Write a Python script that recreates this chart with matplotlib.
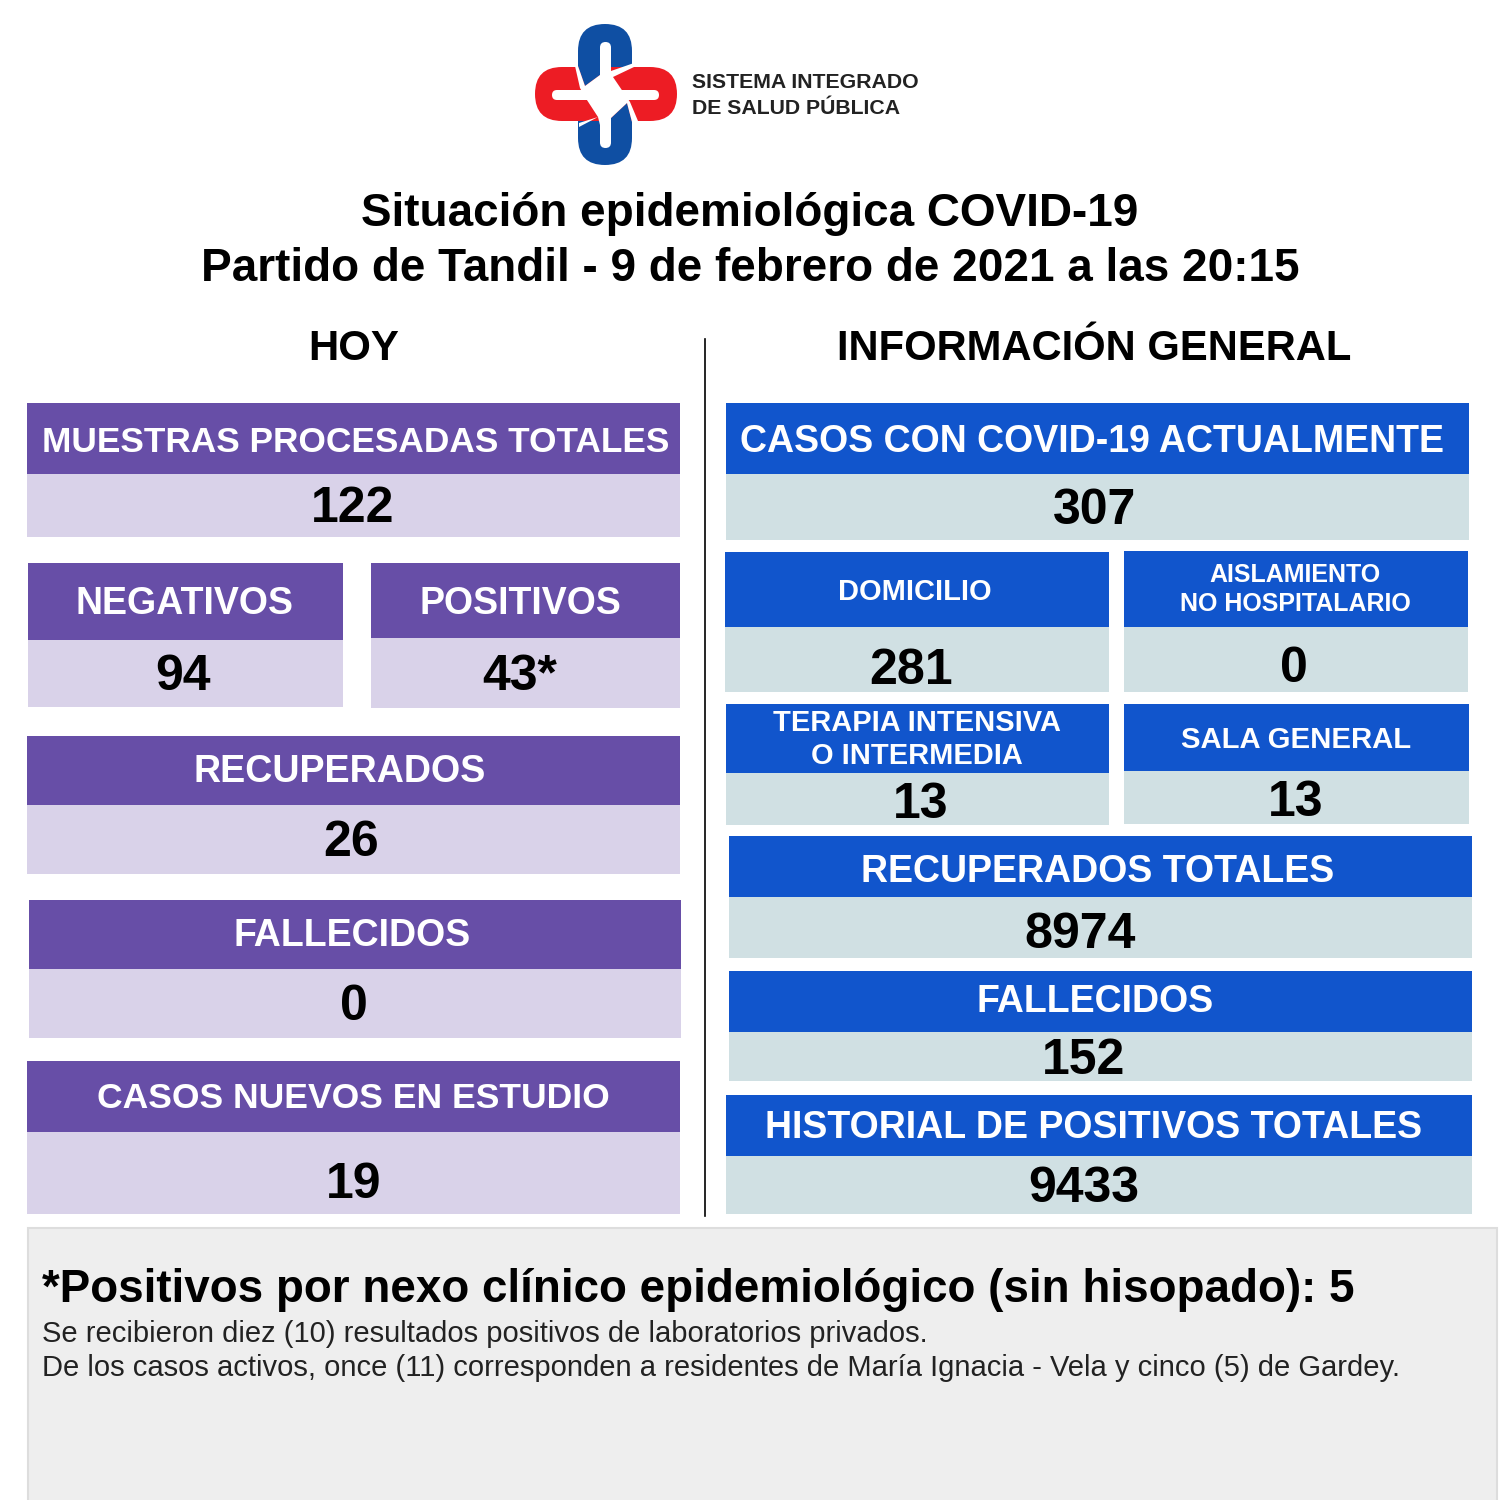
import matplotlib
matplotlib.use('Agg')
import matplotlib.pyplot as plt
from matplotlib.patches import FancyBboxPatch, Polygon, Rectangle

plt.rcParams['font.family'] = ['Liberation Sans', 'DejaVu Sans']

# data
title_lines = ['Situación epidemiológica COVID-19',
               'Partido de Tandil - 9 de febrero de 2021 a las 20:15']
left_labels = ['MUESTRAS PROCESADAS TOTALES', 'NEGATIVOS', 'POSITIVOS', 'RECUPERADOS',
               'FALLECIDOS', 'CASOS NUEVOS EN ESTUDIO']
left_values = ['122', '94', '43*', '26', '0', '19']
right_labels = ['CASOS CON COVID-19 ACTUALMENTE', 'DOMICILIO', 'AISLAMIENTO\nNO HOSPITALARIO',
                'TERAPIA INTENSIVA\nO INTERMEDIA', 'SALA GENERAL', 'RECUPERADOS TOTALES',
                'FALLECIDOS', 'HISTORIAL DE POSITIVOS TOTALES']
right_values = ['307', '281', '0', '13', '13', '8974', '152', '9433']
note_head = '*Positivos por nexo clínico epidemiológico (sin hisopado): 5'
note_lines = ['Se recibieron diez (10) resultados positivos de laboratorios privados.',
              'De los casos activos, once (11) corresponden a residentes de María Ignacia - Vela y cinco (5) de Gardey.']

# layout in pixels: x0, x1, top, mid, bottom, label x, label y, value x, value y, label px
left_boxes = [(27, 680, 403, 474, 537, 356, 440, 353, 504, 35.3),
              (28, 343, 563, 640, 707, 185, 602, 183, 672, 37.5),
              (371, 680, 563, 638, 708, 520, 601, 520, 672, 37.5),
              (27, 680, 736, 805, 874, 340, 770, 351, 838, 37.6),
              (29, 681, 900, 969, 1038, 352, 934, 354, 1002, 37.5),
              (27, 680, 1061, 1132, 1214, 353, 1096, 354, 1180, 35.5)]
right_boxes = [(726, 1469, 403, 474, 540, 1092, 439, 1095, 507, 37.5),
               (725, 1109, 552, 627, 692, 915, 589, 911, 666, 29),
               (1124, 1468, 551, 627, 692, 1295, 587, 1294, 665, 25),
               (726, 1109, 704, 773, 825, 917, 737, 921, 800, 29),
               (1124, 1469, 704, 771, 824, 1296, 737, 1296, 798, 29.2),
               (729, 1472, 836, 897, 958, 1098, 869, 1080, 931, 37.5),
               (729, 1472, 971, 1032, 1081, 1095, 1000, 1084, 1057, 37.5),
               (726, 1472, 1095, 1156, 1214, 1094, 1126, 1084, 1185, 37.5)]

PX = 72 / 150  # pixels to points
DY = 3.5  # text sits a bit high with va=center


def draw_box(ax, box, label, value, head_col, body_col):
    x0, x1, top, mid, bottom, lx, ly, vx, vy, lsize = box
    ax.add_patch(Rectangle((x0, mid), x1 - x0, bottom - mid, color=body_col, lw=0))
    ax.add_patch(Rectangle((x0, top), x1 - x0, mid - top, color=head_col, lw=0))
    ax.text(lx, ly + DY - 1, label, color='white', fontsize=lsize * PX, fontweight='bold',
            ha='center', va='center', linespacing=1.24)
    ax.text(vx, vy + DY + 1, value, color='black', fontsize=50 * PX, fontweight='bold',
            ha='center', va='center')


def draw_logo(ax):
    blue = '#0f4fa3'
    red = '#ed1c24'
    ax.add_patch(FancyBboxPatch((578 + 27, 24 + 27), 0, 141 - 54, boxstyle='round,pad=27',
                                fc=blue, ec='none'))
    ax.add_patch(FancyBboxPatch((535 + 27, 67 + 27), 142 - 54, 0, boxstyle='round,pad=27',
                                fc=red, ec='none'))
    # blue passes over the red in the upper left and lower right
    ax.add_patch(Polygon([(578, 60), (600, 60), (600, 75), (585, 86), (578, 66)], fc=blue, ec='none'))
    ax.add_patch(Polygon([(611, 118), (627, 103), (632, 122), (632, 135), (611, 135)], fc=blue, ec='none'))
    ax.add_patch(FancyBboxPatch((600 + 5.5, 42 + 5.5), 0, 106 - 11, boxstyle='round,pad=5.5',
                                fc='white', ec='none'))
    ax.add_patch(FancyBboxPatch((552 + 5, 90 + 5), 107 - 10, 0, boxstyle='round,pad=5',
                                fc='white', ec='none'))
    # white knot in the middle
    knot = [(575, 66), (578, 66), (585, 86), (600, 75), (611, 71), (634, 63), (634, 67),
            (613, 77), (630, 102), (638, 121), (632, 122), (627, 103), (611, 118), (600, 125),
            (598, 117), (579, 127), (579, 123), (598, 117), (585, 97), (580, 88)]
    ax.add_patch(Polygon(knot, closed=True, fc='white', ec='none'))
    ax.text(692, 83, 'SISTEMA INTEGRADO', fontsize=21.3 * PX, fontweight='bold', color='#222222',
            ha='left', va='center')
    ax.text(692, 109, 'DE SALUD PÚBLICA', fontsize=21.3 * PX, fontweight='bold', color='#222222',
            ha='left', va='center')


fig = plt.figure(figsize=(10, 10), dpi=150)
ax = fig.add_axes([0, 0, 1, 1])
ax.set_xlim(0, 1500)
ax.set_ylim(1500, 0)
ax.axis('off')

draw_logo(ax)

ax.text(750, 210 + DY, title_lines[0], fontsize=45.9 * PX, fontweight='bold', ha='center', va='center')
ax.text(750, 265 + DY + 0.5, title_lines[1], fontsize=45.9 * PX, fontweight='bold', ha='center', va='center')
ax.text(354, 347 + 2, 'HOY', fontsize=42 * PX, fontweight='bold', ha='center', va='center')
ax.text(1094, 346 + DY, 'INFORMACIÓN GENERAL', fontsize=41.7 * PX, fontweight='bold', ha='center', va='center')

ax.plot([705, 705], [339, 1216], color='black', lw=0.8)

for box, lab, val in zip(left_boxes, left_labels, left_values):
    draw_box(ax, box, lab, val, '#674ea7', '#d9d2e9')
for box, lab, val in zip(right_boxes, right_labels, right_values):
    draw_box(ax, box, lab, val, '#1155cc', '#d0e0e3')

ax.add_patch(Rectangle((28, 1228), 1469, 290, fc='#eeeeee', ec='#dddddd', lw=1))
ax.text(42, 1287 + DY, note_head, fontsize=45.8 * PX, fontweight='bold', ha='left', va='center')
ax.text(42, 1332 + 2, note_lines[0], fontsize=29.1 * PX, ha='left', va='center', color='#222222')
ax.text(42, 1366 + 2, note_lines[1], fontsize=29.1 * PX, ha='left', va='center', color='#222222')

fig.savefig('out.png', dpi=150)
